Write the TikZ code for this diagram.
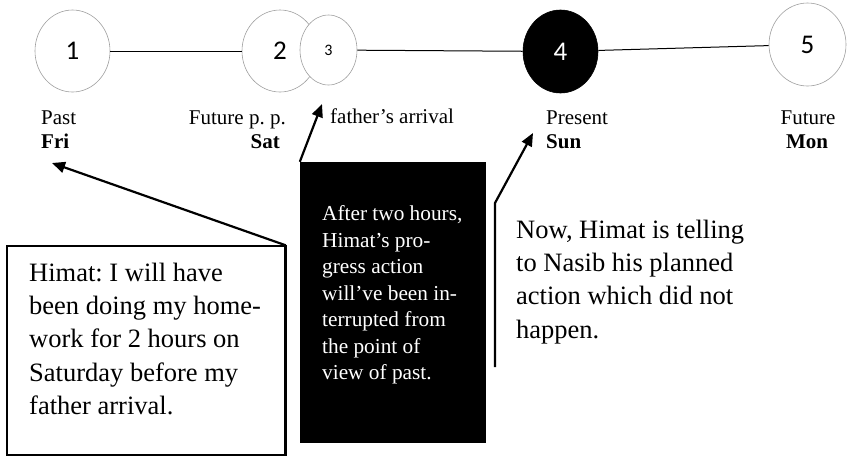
\documentclass[tikz,border=0pt]{standalone}
\usepackage{fontspec}
\setmainfont{Liberation Serif}
\newfontfamily\digitfont{Carlito}
\usetikzlibrary{shapes.geometric,arrows.meta}
\frenchspacing
\begin{document}
\begin{tikzpicture}[x=1pt,y=-1pt,
  tnode/.style={draw=gray!75, line width=0.6pt, ellipse, inner sep=0pt, fill=white,
    font=\digitfont\fontsize{27}{30}\selectfont},
  link/.style={line width=1pt},
  lbl/.style={inner sep=0pt, font=\fontsize{21}{25}\selectfont},
  pointer/.style={line width=2.2pt, -{Triangle[length=13pt,width=11pt]}},
  bigtext/.style={inner sep=0pt, align=left, font=\fontsize{26.5}{33.3}\selectfont},
  smalltext/.style={inner sep=0pt, align=left, text=white, font=\fontsize{21.3}{26.5}\selectfont}
]
\useasboundingbox (0,0) rectangle (849,456);

% timeline nodes
\node[tnode, minimum width=75pt, minimum height=82pt] (c1) at (72.5,51) {1};
\node[tnode, minimum width=76pt, minimum height=82pt] (c2) at (280,51) {2};
\node[tnode, minimum width=57pt, minimum height=70pt, font=\digitfont\fontsize{16}{18}\selectfont] (c3) at (328.5,50) {3};
\node[tnode, draw=black, fill=black, text=white, minimum width=75pt, minimum height=83pt] (c4) at (560.5,51.5) {4};
\node[tnode, minimum width=77pt, minimum height=83pt] (c5) at (807.5,44.5) {5};

\draw[link] (c1) -- (c2);
\draw[link] (c3) -- (c4);
\draw[link] (c4) -- (c5);

% labels
\node[lbl, anchor=base west] (past) at (41,124) {Past};
\node[lbl, anchor=base west] (fri) at (41,148) {\bfseries Fri};
\node[lbl, anchor=base east] (fpp) at (286,124) {Future p. p.};
\node[lbl, anchor=base east] (sat) at (280,148) {\bfseries Sat};
\node[lbl, anchor=base west] (farr) at (330,123) {father’s arrival};
\node[lbl, anchor=base west] (pres) at (546,124) {Present};
\node[lbl, anchor=base west] (sun) at (546,148) {\bfseries Sun};
\node[lbl, anchor=base] (fut) at (808,124) {Future};
\node[lbl, anchor=base] (mon) at (807,148) {\bfseries Mon};

% white box
\node[draw, line width=1.4pt, minimum width=278pt, minimum height=209pt, inner sep=0pt] (wbox) at (146,350.5) {};
\draw[line width=2.6pt] (wbox.north east) -- (wbox.south east);
\node[bigtext, anchor=base west] (wtext) at (29,414.5) {Himat: I will have\\been doing my home-\\work for 2 hours on\\Saturday before my\\father arrival.};

% black box
\node[fill=black, minimum width=186pt, minimum height=281pt, inner sep=0pt] (bbox) at (393,302.5) {};
\node[smalltext, anchor=base west] (btext) at (322,379.5) {After two hours,\\Himat’s pro-\\gress action\\will’ve been in-\\terrupted from\\the point of\\view of past.};

% right text
\node[bigtext, anchor=base west] (rtext) at (516,338) {Now, Himat is telling\\to Nasib his planned\\action which did not\\happen.};

% arrows
\coordinate (t1) at (52,163);
\coordinate (t2) at (322,104);
\coordinate (s3) at (495,367);
\coordinate (b3) at (495,203);
\coordinate (t3) at (533,133);
\draw[pointer] (wbox.north east) -- (t1);
\draw[pointer] (bbox.north west) -- (t2);
\draw[pointer] (s3) -- (b3) -- (t3);
\end{tikzpicture}
\end{document}
